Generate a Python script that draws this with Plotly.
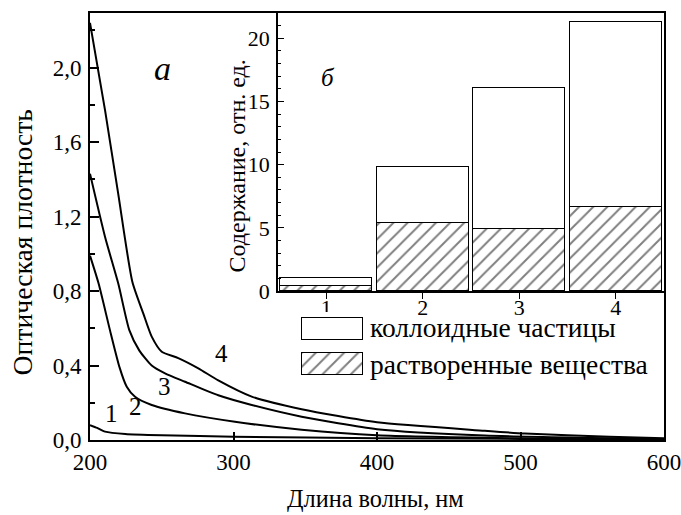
import plotly.graph_objects as go

# ---------------- data ----------------
# main panel (a): optical density spectra
wl_1 = [200, 205, 210.5, 224.6, 250, 300, 400, 500, 600]
od_1 = [0.08, 0.065, 0.045, 0.032, 0.025, 0.018, 0.01, 0.006, 0.004]

wl_2 = [200, 206, 213.9, 220.6, 225.6, 231.4, 243, 266.2, 301, 347.5, 400, 500, 600]
od_2 = [0.99, 0.84, 0.59, 0.39, 0.286, 0.232, 0.188, 0.143, 0.098, 0.055, 0.025, 0.009, 0.003]

wl_3 = [200, 210.5, 219.7, 227.4, 234.4, 243, 252.3, 266.2, 289.4, 312.7, 347.5, 400, 475, 600]
od_3 = [1.43, 1.09, 0.84, 0.59, 0.48, 0.40, 0.358, 0.313, 0.24, 0.188, 0.125, 0.058, 0.024, 0.005]

wl_4 = [200, 210.5, 219.7, 229.5, 237.1, 243, 250, 261.5, 275.5, 289.4, 312.7, 347.5, 400, 475, 503, 562, 600]
od_4 = [2.24, 1.77, 1.32, 0.85, 0.68, 0.555, 0.474, 0.44, 0.385, 0.32, 0.233, 0.165, 0.095, 0.05, 0.035, 0.017, 0.01]

x_ticks = [200, 300, 400, 500, 600]
y_ticks = [0.0, 0.4, 0.8, 1.2, 1.6, 2.0]
y_ticktext = ["0,0", "0,4", "0,8", "1,2", "1,6", "2,0"]

curve_names = ["1", "2", "3", "4"]
curve_label_wl = [215.1, 231.4, 251.6, 291.6]
curve_label_od = [0.145, 0.181, 0.29, 0.462]

# inset panel (б): content, rel. units
samples = [1, 2, 3, 4]
dissolved = [0.38, 5.35, 4.87, 6.67]        # растворенные вещества (hatched)
colloid = [0.62, 4.50, 11.23, 14.63]        # коллоидные частицы (on top)
inset_yticks = [0, 5, 10, 15, 20]

legend_labels = ["коллоидные частицы", "растворенные вещества"]

FONT = "Liberation Serif, Times New Roman, DejaVu Serif, serif"
W, H = 681, 515
L, R, T, B = 90, 17, 13, 75
PW, PH = W - L - R, H - T - B


def px(xp):
    return (xp - L) / PW


def py(yp):
    return (H - B - yp) / PH


def f(size):
    return dict(family=FONT, size=size, color="black")


fig = go.Figure()

for wl, od in [(wl_1, od_1), (wl_2, od_2), (wl_3, od_3), (wl_4, od_4)]:
    fig.add_trace(go.Scatter(
        x=wl, y=od, mode="lines",
        line=dict(color="black", width=2, shape="spline", smoothing=0.6),
        showlegend=False, xaxis="x", yaxis="y", hoverinfo="skip"))

hatch = dict(shape="/", size=10, solidity=0.2, fgcolor="black", bgcolor="white")

# inset bars
fig.add_trace(go.Bar(
    x=samples, y=dissolved, width=0.95, xaxis="x2", yaxis="y2",
    marker=dict(color="white", line=dict(color="black", width=1), pattern=hatch),
    showlegend=False))
fig.add_trace(go.Bar(
    x=samples, y=colloid, width=0.95, xaxis="x2", yaxis="y2",
    marker=dict(color="white", line=dict(color="black", width=1)),
    showlegend=False))

# legend swatches (helper axes)
fig.add_trace(go.Bar(
    x=[1], y=[1], orientation="h", width=0.64, base=0, xaxis="x3", yaxis="y3",
    marker=dict(color="white", line=dict(color="black", width=1)),
    showlegend=False, hoverinfo="skip"))
fig.add_trace(go.Bar(
    x=[1], y=[0], orientation="h", width=0.64, base=0, xaxis="x3", yaxis="y3",
    marker=dict(color="white", line=dict(color="black", width=1), pattern=hatch),
    showlegend=False, hoverinfo="skip"))

annotations = []
for name, xw, yo in zip(curve_names, curve_label_wl, curve_label_od):
    annotations.append(dict(x=xw, y=yo, xref="x", yref="y", text=name,
                            xanchor="center", yanchor="middle",
                            showarrow=False, font=f(25)))
annotations.append(dict(x=250.3, y=1.997, xref="x", yref="y", text="<i>а</i>",
                        xanchor="center", yanchor="middle",
                        showarrow=False, font=f(34)))
annotations.append(dict(x=px(328), y=py(77), xref="paper", yref="paper", text="<i>б</i>",
                        xanchor="center", yanchor="middle",
                        showarrow=False, font=f(25)))
# axis titles
annotations.append(dict(x=px(22), y=py(242.5), xref="paper", yref="paper",
                        text="Оптическая плотность", textangle=-90, showarrow=False,
                        xanchor="center", yanchor="middle", font=f(27.7)))
annotations.append(dict(x=px(375), y=py(499), xref="paper", yref="paper",
                        text="Длина волны, нм", showarrow=False,
                        xanchor="center", yanchor="middle", font=f(24.3)))
annotations.append(dict(x=px(237), y=py(166.5), xref="paper", yref="paper",
                        text="Содержание, отн. ед.", textangle=-90, showarrow=False,
                        xanchor="center", yanchor="middle", font=f(24)))
# legend texts
for lab, yp in zip(legend_labels, [328, 364]):
    annotations.append(dict(x=px(368), y=py(yp), xref="paper", yref="paper", text=lab,
                            xanchor="left", yanchor="middle", showarrow=False,
                            font=f(27.5)))

fig.update_layout(
    width=W, height=H,
    margin=dict(l=L, r=R, t=T, b=B, autoexpand=False),
    paper_bgcolor="white", plot_bgcolor="white",
    barmode="stack", bargap=0,
    showlegend=False,
    font=dict(family=FONT, color="black"),
    annotations=annotations,
    xaxis=dict(domain=[0, 1], range=[200, 600], tickvals=x_ticks,
               ticks="inside", ticklen=8, tickwidth=1.5, tickcolor="black",
               showline=True, linewidth=2, linecolor="black", mirror=True,
               showgrid=False, zeroline=False, ticklabelstandoff=0,
               ticklabeloverflow="allow", automargin=False,
               tickfont=f(23), anchor="y"),
    yaxis=dict(domain=[0, 1], range=[0, 2.293], tickvals=y_ticks, ticktext=y_ticktext,
               ticks="inside", ticklen=9, tickwidth=1.5, tickcolor="black",
               minor=dict(dtick=0.2, tick0=0, ticks="inside", ticklen=5, tickcolor="black"),
               showline=True, linewidth=2, linecolor="black", mirror=True,
               showgrid=False, zeroline=False, ticklabelstandoff=2,
               ticklabeloverflow="allow", automargin=False,
               tickfont=f(23), anchor="x"),
    xaxis2=dict(domain=[px(278), 1], range=[0.5, 4.5], tickvals=samples,
                ticks="outside", ticklen=6, tickwidth=1, tickcolor="black",
                showline=True, linewidth=1.5, linecolor="black",
                showgrid=False, zeroline=False, ticklabelstandoff=-10,
                ticklabeloverflow="allow", automargin=False,
                tickfont=f(22), anchor="y2"),
    yaxis2=dict(domain=[py(291), 1], range=[0, 22], tickvals=inset_yticks,
                ticks="inside", ticklen=6, tickwidth=1, tickcolor="black",
                minor=dict(dtick=1, tick0=0, ticks="inside", ticklen=3, tickcolor="black"),
                showline=True, linewidth=1.5, linecolor="black",
                showgrid=False, zeroline=False, ticklabelstandoff=2,
                ticklabeloverflow="allow", automargin=False,
                tickfont=f(22), anchor="x2"),
    xaxis3=dict(domain=[px(300), px(365)], range=[-2 / 61, 1 + 2 / 61], visible=False,
                anchor="y3", fixedrange=True, automargin=False),
    yaxis3=dict(domain=[py(381), py(312)], range=[-0.5, 1.5], visible=False,
                anchor="x3", fixedrange=True, automargin=False),
)

fig.write_html("out.html")
